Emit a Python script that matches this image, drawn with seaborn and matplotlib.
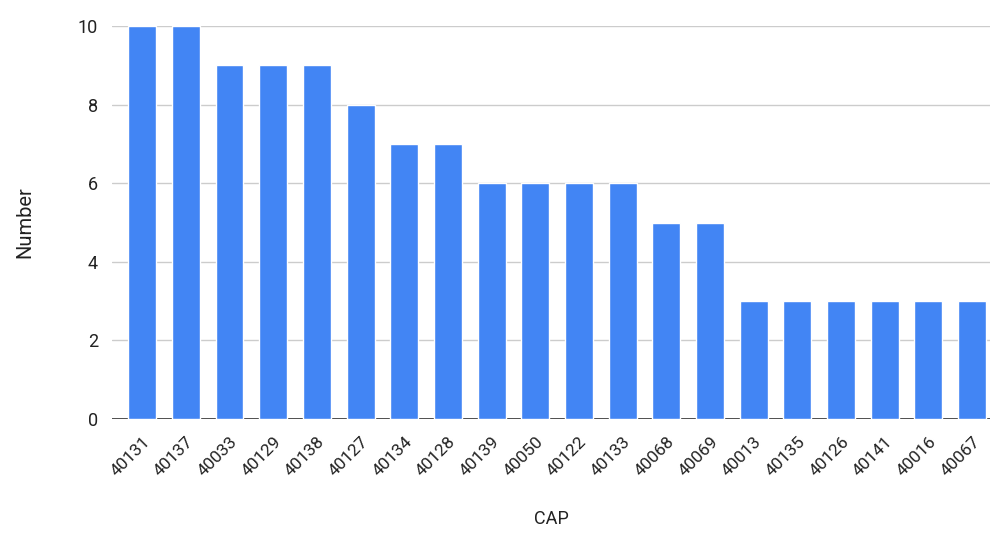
import matplotlib.pyplot as plt
import seaborn as sns
import pandas as pd

# datos
caps = ['40131', '40137', '40033', '40129', '40138', '40127', '40134', '40128',
        '40139', '40050', '40122', '40133', '40068', '40069', '40013', '40135',
        '40126', '40141', '40016', '40067']
numbers = [10, 10, 9, 9, 9, 8, 7, 7, 6, 6, 6, 6, 5, 5, 3, 3, 3, 3, 3, 3]

df = pd.DataFrame({'CAP': caps, 'Number': numbers})

sns.set_style('white')
plt.rcParams['font.family'] = ['Roboto', 'DejaVu Sans']

fig = plt.figure(figsize=(9.91, 5.33), dpi=100)
ax = fig.add_axes([0.113, 0.214, 0.886, 0.737])

sns.barplot(data=df, x='CAP', y='Number', color='#4285F4', saturation=1,
            width=0.64, ax=ax, zorder=3)

ax.set_ylim(0, 10)
ax.set_xlim(-0.69, 19.41)
ax.set_yticks([0, 2, 4, 6, 8, 10])
ax.yaxis.grid(True, color='#cccccc', linewidth=1, zorder=0)
ax.axhline(0, color='#333333', linewidth=1.2, zorder=2)
for s in ax.spines.values():
    s.set_visible(False)

ax.tick_params(axis='y', length=0, labelsize=13, colors='#222222', pad=10)
ax.tick_params(axis='x', length=0, labelsize=12.5, colors='#222222', pad=11)
plt.setp(ax.get_xticklabels(), rotation=45, ha='right', rotation_mode='anchor')

ax.set_xlabel('CAP', fontsize=13, color='#222222', labelpad=22)
ax.set_ylabel('Number', fontsize=14.5, color='#222222', labelpad=31)

fig.savefig('out.png', dpi=100)
